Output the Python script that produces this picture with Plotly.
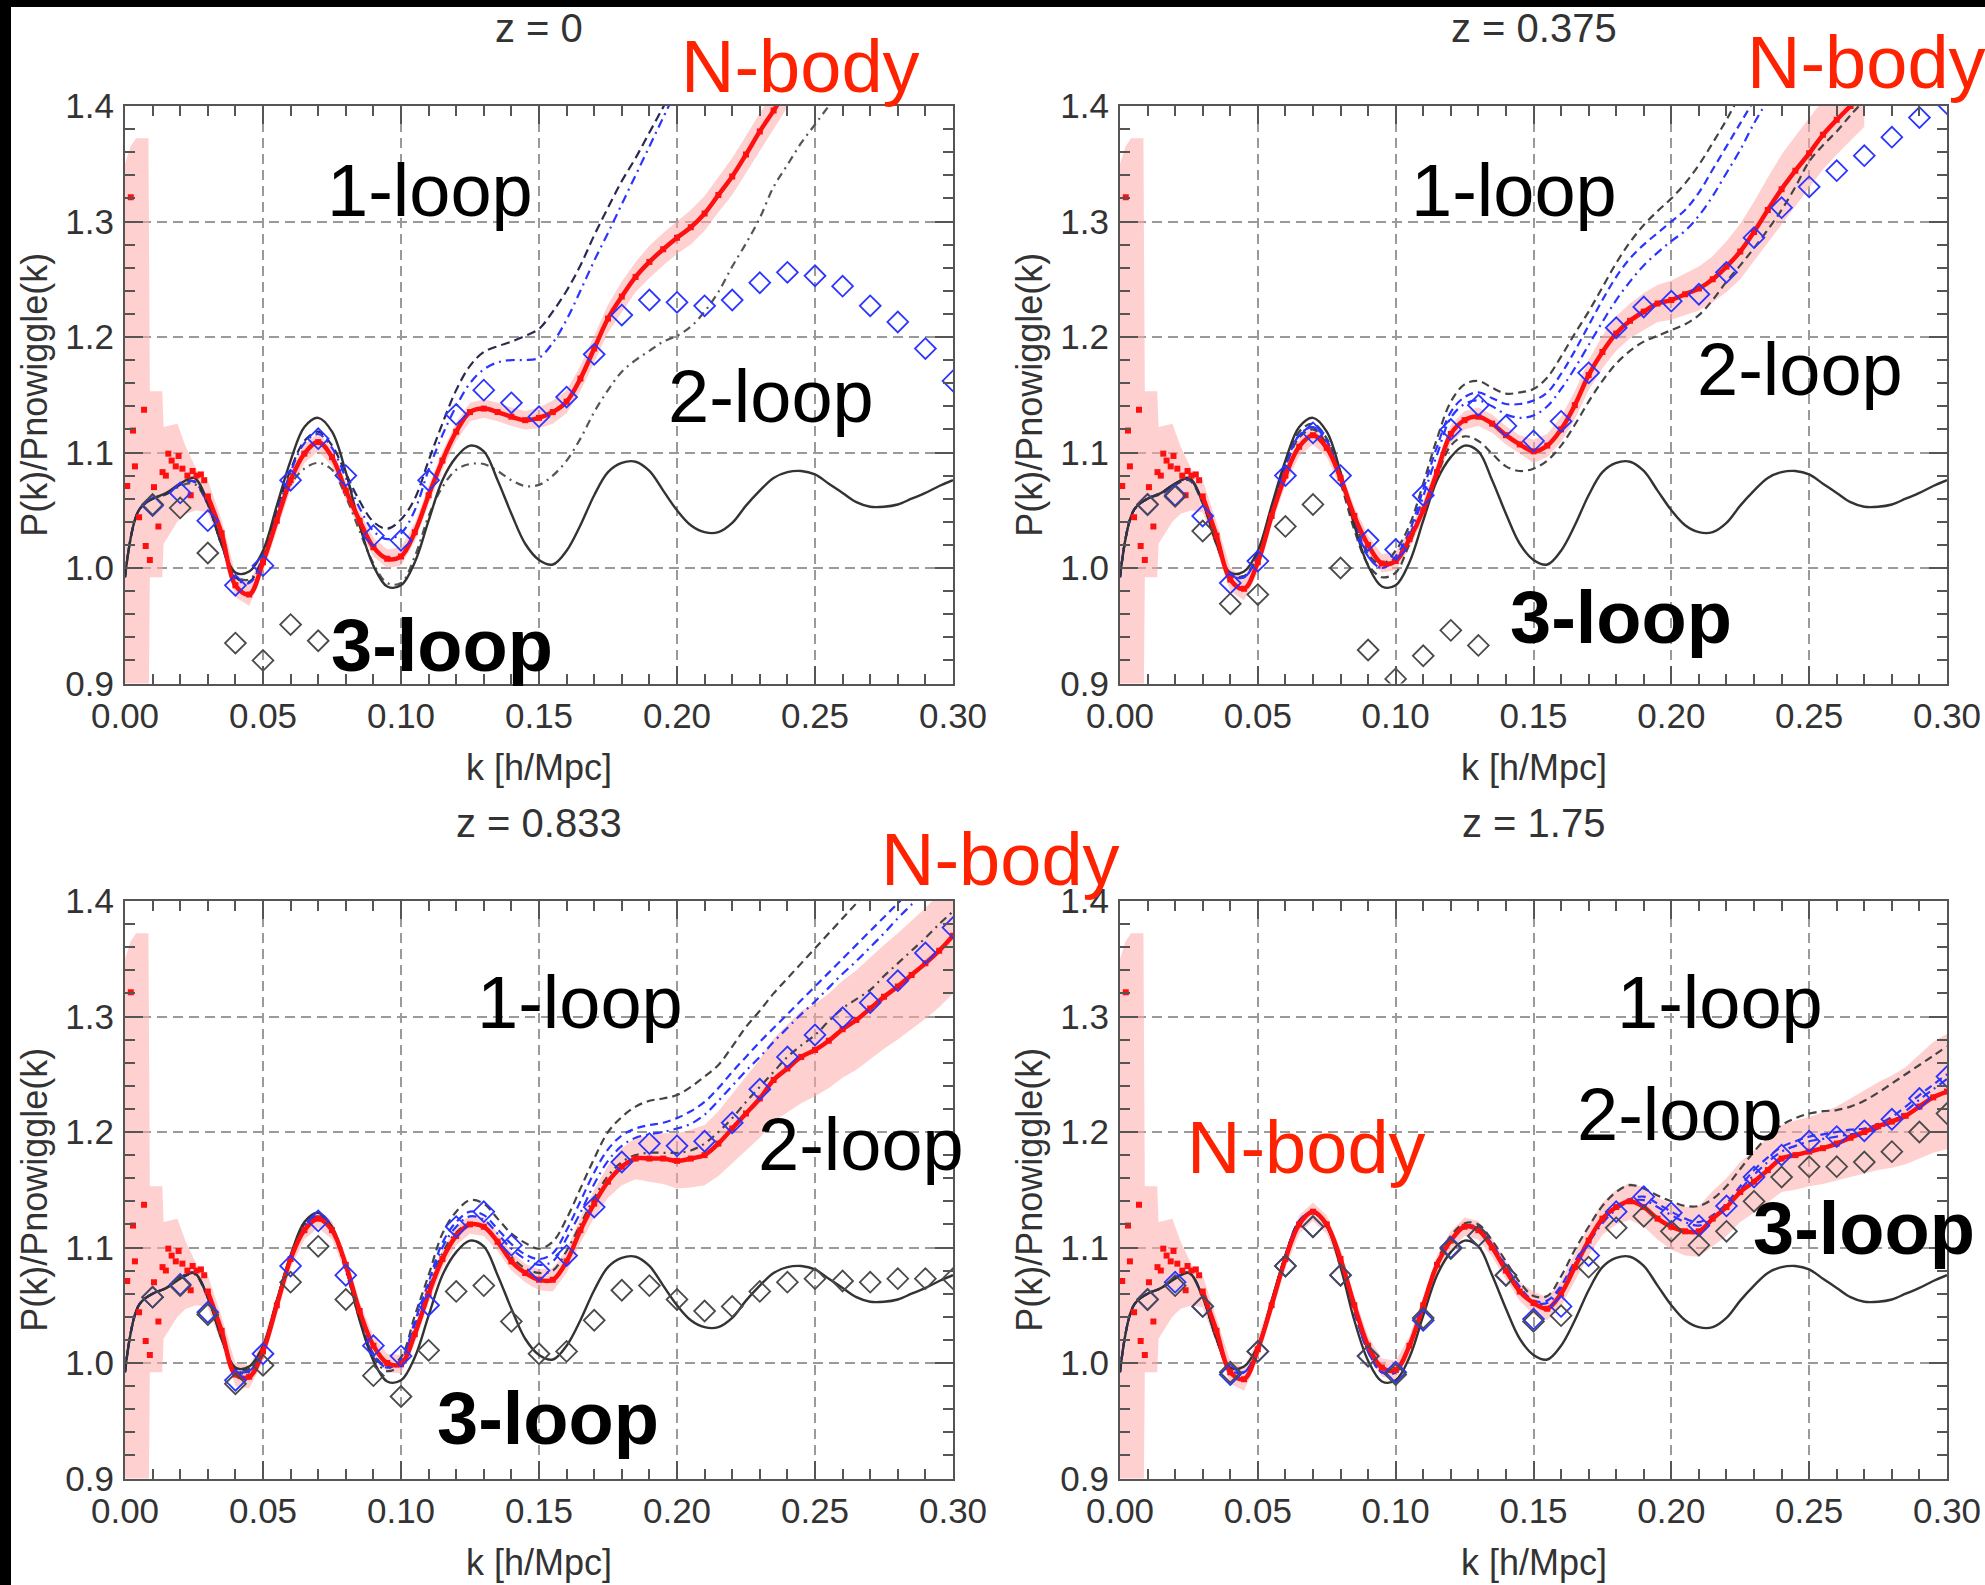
import plotly.graph_objects as go

W, H = 1985, 1585
STEP = 0.005

# ---------------- data ----------------
# linear theory ratio, k = 0.000 ... 0.300 step 0.005 (same in all panels)
lin_vals = [0.992, 1.050, 1.060, 1.065, 1.073, 1.078, 1.057, 1.021, 0.996, 0.997,
            1.015, 1.054, 1.093, 1.122, 1.130, 1.118, 1.083, 1.037, 1.002, 0.984,
            0.985, 1.005, 1.041, 1.076, 1.096, 1.106, 1.101, 1.076, 1.047, 1.021,
            1.007, 1.003, 1.015, 1.037, 1.063, 1.083, 1.091, 1.092, 1.084, 1.067,
            1.050, 1.037, 1.031, 1.031, 1.039, 1.054, 1.067, 1.078, 1.083, 1.084,
            1.081, 1.073, 1.065, 1.057, 1.053, 1.053, 1.055, 1.060, 1.065, 1.071,
            1.076]

# low-k N-body scatter (shared by all panels)
lowk_dot_k = [0.0008, 0.0021, 0.0029, 0.0036, 0.0051, 0.0069, 0.0075, 0.0090, 0.0105, 0.0121,
              0.0136, 0.0148, 0.0157, 0.0169, 0.0184, 0.0194, 0.0208, 0.0226, 0.0238, 0.0245,
              0.0259, 0.0275, 0.0287]
lowk_dot_v = [1.071, 1.321, 1.119, 1.088, 1.044, 1.137, 1.019, 1.007, 1.070, 1.036,
              1.083, 1.080, 1.099, 1.093, 1.088, 1.097, 1.086, 1.080, 1.063, 1.084,
              1.080, 1.081, 1.076]
lowk_band_k = [0.000, 0.002, 0.004, 0.0085, 0.0090, 0.0135, 0.0140, 0.0190, 0.0220, 0.0260, 0.0300]
lowk_band_hi = [1.350, 1.365, 1.372, 1.372, 1.153, 1.153, 1.122, 1.125, 1.105, 1.085, 1.076]
lowk_band_lo = [0.850, 0.850, 0.850, 0.850, 0.992, 0.992, 1.021, 1.040, 1.047, 1.050, 1.048]

err_low = [0.014, 0.012, 0.010, 0.010, 0.009] + [0.008] * 19   # k = 0.030 ... 0.145

# ---- z = 0 ----
z0_nbody = [1.062, 1.030, 0.985, 0.977, 1.005, 1.041, 1.076, 1.099, 1.109, 1.096,
            1.067, 1.041, 1.018, 1.008, 1.010, 1.031, 1.063, 1.093, 1.118, 1.135,
            1.138, 1.135, 1.131, 1.128, 1.130, 1.135, 1.144, 1.164, 1.190, 1.216,
            1.235, 1.252, 1.265, 1.276, 1.286, 1.295, 1.307, 1.323, 1.339, 1.358,
            1.378, 1.396, 1.415]
z0_err = err_low + [0.009, 0.010, 0.010, 0.011, 0.012, 0.012, 0.013, 0.013, 0.014, 0.014,
                    0.014, 0.015, 0.015, 0.015, 0.016, 0.016, 0.016, 0.016, 0.016]
z0_oneloop = [0.992, 1.050, 1.060, 1.064, 1.072, 1.075, 1.055, 1.020, 0.992, 0.988,
              1.010, 1.050, 1.085, 1.110, 1.118, 1.106, 1.082, 1.058, 1.040, 1.034,
              1.042, 1.060, 1.093, 1.125, 1.154, 1.175, 1.187, 1.192, 1.196, 1.201,
              1.207, 1.222, 1.240, 1.262, 1.288, 1.312, 1.335, 1.355, 1.377, 1.399,
              1.420]
z0_blue_dd = [0.992, 1.050, 1.060, 1.064, 1.072, 1.075, 1.055, 1.020, 0.991, 0.987,
              1.009, 1.048, 1.083, 1.108, 1.116, 1.104, 1.078, 1.052, 1.032, 1.025,
              1.030, 1.050, 1.085, 1.115, 1.140, 1.160, 1.172, 1.178, 1.180, 1.180,
              1.182, 1.195, 1.215, 1.240, 1.266, 1.290, 1.315, 1.340, 1.365, 1.390,
              1.415]
z0_twoloop = [0.992, 1.050, 1.060, 1.064, 1.071, 1.073, 1.055, 1.020, 0.993, 0.990,
              1.008, 1.043, 1.072, 1.086, 1.091, 1.085, 1.062, 1.032, 1.004, 0.987,
              0.987, 1.010, 1.045, 1.070, 1.085, 1.090, 1.090, 1.084, 1.076, 1.071,
              1.072, 1.080, 1.093, 1.112, 1.135, 1.154, 1.170, 1.180, 1.188, 1.196,
              1.201, 1.209, 1.222, 1.239, 1.261, 1.281, 1.303, 1.330, 1.349, 1.368,
              1.384, 1.400, 1.415]
z0_blue_diam = [1.054, 1.065, 1.041, 0.985, 1.002, 1.076, 1.112, 1.080, 1.028, 1.024,
                1.076, 1.133, 1.154, 1.143, 1.131, 1.148, 1.185, 1.219, 1.232, 1.230,
                1.227, 1.232, 1.247, 1.256, 1.253, 1.244, 1.227, 1.213, 1.190, 1.162]
z0_gray_diam = [1.055, 1.052, 1.013, 0.935, 0.920, 0.951, 0.937]

# ---- z = 0.375 ----
z1_nbody = [1.062, 1.028, 0.990, 0.982, 1.005, 1.045, 1.080, 1.105, 1.115, 1.104,
            1.078, 1.045, 1.020, 1.004, 1.006, 1.025, 1.050, 1.083, 1.116, 1.128,
            1.131, 1.125, 1.115, 1.107, 1.101, 1.106, 1.120, 1.141, 1.167, 1.187,
            1.203, 1.214, 1.222, 1.229, 1.232, 1.237, 1.242, 1.250, 1.261, 1.274,
            1.291, 1.310, 1.328, 1.344, 1.359, 1.375, 1.388, 1.400, 1.412]
z1_err = err_low + [0.010, 0.010, 0.011, 0.012, 0.013, 0.014, 0.015, 0.015, 0.016, 0.016,
                    0.017, 0.018, 0.019, 0.020, 0.022, 0.024, 0.026, 0.028, 0.030, 0.030,
                    0.030, 0.030, 0.030, 0.030, 0.030]
z1_oneloop = [0.992, 1.050, 1.060, 1.065, 1.073, 1.077, 1.057, 1.022, 0.995, 0.993,
              1.012, 1.052, 1.090, 1.118, 1.125, 1.112, 1.080, 1.042, 1.012, 1.003,
              1.015, 1.037, 1.073, 1.112, 1.144, 1.159, 1.162, 1.156, 1.151, 1.152,
              1.155, 1.165, 1.183, 1.203, 1.222, 1.243, 1.264, 1.282, 1.297, 1.309,
              1.320, 1.333, 1.349, 1.368, 1.388, 1.410]
z1_blue_dash = [0.992, 1.050, 1.060, 1.065, 1.073, 1.077, 1.057, 1.022, 0.994, 0.992,
                1.011, 1.050, 1.088, 1.115, 1.122, 1.110, 1.078, 1.040, 1.010, 1.000,
                1.010, 1.032, 1.068, 1.105, 1.135, 1.148, 1.152, 1.147, 1.142, 1.142,
                1.145, 1.152, 1.168, 1.188, 1.210, 1.232, 1.252, 1.268, 1.280, 1.290,
                1.300, 1.310, 1.325, 1.345, 1.365, 1.385, 1.405]
z1_blue_dd = [0.992, 1.050, 1.060, 1.065, 1.073, 1.077, 1.057, 1.022, 0.994, 0.992,
              1.011, 1.050, 1.088, 1.115, 1.122, 1.110, 1.078, 1.040, 1.010, 1.000,
              1.008, 1.028, 1.062, 1.098, 1.130, 1.142, 1.145, 1.140, 1.133, 1.130,
              1.132, 1.140, 1.155, 1.173, 1.193, 1.213, 1.232, 1.248, 1.262, 1.273,
              1.283, 1.292, 1.305, 1.322, 1.342, 1.362, 1.385, 1.405]
z1_twoloop = [0.992, 1.050, 1.060, 1.064, 1.072, 1.076, 1.056, 1.021, 0.994, 0.993,
              1.011, 1.050, 1.087, 1.113, 1.120, 1.107, 1.074, 1.033, 1.003, 0.992,
              0.996, 1.021, 1.050, 1.080, 1.106, 1.114, 1.110, 1.099, 1.088, 1.084,
              1.086, 1.093, 1.106, 1.124, 1.144, 1.162, 1.177, 1.188, 1.196, 1.201,
              1.206, 1.211, 1.219, 1.232, 1.248, 1.262, 1.277, 1.293, 1.310, 1.330,
              1.352, 1.366, 1.378, 1.392, 1.405]
z1_blue_diam = [1.055, 1.063, 1.045, 0.987, 1.006, 1.080, 1.117, 1.080, 1.024, 1.016,
                1.063, 1.120, 1.141, 1.123, 1.110, 1.127, 1.169, 1.208, 1.226, 1.231,
                1.237, 1.256, 1.286, 1.312, 1.330, 1.344, 1.357, 1.373, 1.390, 1.402]
z1_gray_diam = [1.055, 1.062, 1.032, 0.969, 0.977, 1.036, 1.055, 1.000, 0.929, 0.904,
                0.924, 0.946, 0.933]

# ---- z = 0.833 ----
z2_nbody = [1.062, 1.028, 0.990, 0.988, 1.010, 1.050, 1.090, 1.115, 1.125, 1.115,
            1.085, 1.045, 1.015, 1.000, 0.999, 1.025, 1.060, 1.090, 1.110, 1.120,
            1.118, 1.105, 1.088, 1.078, 1.072, 1.072, 1.088, 1.115, 1.138, 1.157,
            1.170, 1.177, 1.177, 1.177, 1.175, 1.177, 1.180, 1.190, 1.203, 1.216,
            1.229, 1.245, 1.255, 1.265, 1.271, 1.279, 1.289, 1.297, 1.307, 1.317,
            1.326, 1.336, 1.346, 1.357, 1.370]
z2_err = err_low + [0.009, 0.010, 0.010, 0.011, 0.012, 0.014, 0.016, 0.018, 0.020, 0.022,
                    0.024, 0.025, 0.026, 0.028, 0.030, 0.032, 0.034, 0.036, 0.038, 0.040,
                    0.040, 0.041, 0.042, 0.043, 0.044, 0.045, 0.046, 0.047, 0.048, 0.049,
                    0.050]
z2_oneloop = [0.992, 1.050, 1.060, 1.065, 1.074, 1.078, 1.057, 1.022, 0.995, 0.995,
              1.014, 1.054, 1.093, 1.120, 1.128, 1.117, 1.083, 1.040, 1.008, 0.997,
              1.005, 1.041, 1.076, 1.112, 1.131, 1.141, 1.138, 1.125, 1.112, 1.104,
              1.099, 1.105, 1.125, 1.151, 1.177, 1.200, 1.213, 1.222, 1.227, 1.229,
              1.232, 1.239, 1.248, 1.258, 1.274, 1.291, 1.305, 1.320, 1.333, 1.346,
              1.359, 1.372, 1.385, 1.398, 1.411]
z2_blue_dash = [0.992, 1.050, 1.060, 1.065, 1.074, 1.078, 1.057, 1.022, 0.994, 0.993,
                1.013, 1.053, 1.092, 1.119, 1.127, 1.116, 1.082, 1.040, 1.007, 0.996,
                1.003, 1.036, 1.070, 1.104, 1.122, 1.131, 1.128, 1.116, 1.103, 1.094,
                1.090, 1.095, 1.115, 1.140, 1.165, 1.185, 1.197, 1.203, 1.206, 1.208,
                1.212, 1.218, 1.226, 1.238, 1.252, 1.265, 1.278, 1.290, 1.302, 1.314,
                1.326, 1.338, 1.350, 1.362, 1.374, 1.386, 1.398, 1.410]
z2_blue_dd = [0.992, 1.050, 1.060, 1.065, 1.074, 1.078, 1.057, 1.022, 0.994, 0.993,
              1.013, 1.053, 1.092, 1.119, 1.127, 1.116, 1.082, 1.040, 1.007, 0.996,
              1.002, 1.033, 1.066, 1.100, 1.118, 1.127, 1.124, 1.112, 1.099, 1.090,
              1.085, 1.088, 1.108, 1.130, 1.155, 1.175, 1.188, 1.195, 1.198, 1.200,
              1.203, 1.207, 1.215, 1.227, 1.240, 1.253, 1.265, 1.278, 1.290, 1.302,
              1.313, 1.325, 1.337, 1.348, 1.360, 1.372, 1.385, 1.397, 1.410]
z2_twoloop = [0.992, 1.050, 1.060, 1.065, 1.073, 1.077, 1.056, 1.021, 0.993, 0.992,
              1.012, 1.052, 1.091, 1.118, 1.126, 1.114, 1.080, 1.038, 1.005, 0.993,
              0.999, 1.028, 1.062, 1.095, 1.113, 1.121, 1.118, 1.106, 1.092, 1.082,
              1.078, 1.080, 1.097, 1.120, 1.143, 1.162, 1.174, 1.180, 1.182, 1.182,
              1.182, 1.184, 1.190, 1.200, 1.212, 1.226, 1.239, 1.252, 1.265, 1.275,
              1.284, 1.296, 1.307, 1.315, 1.323, 1.335, 1.346, 1.357, 1.368, 1.380,
              1.391]
z2_blue_diam = [1.057, 1.068, 1.044, 0.985, 1.008, 1.084, 1.123, 1.076, 1.015, 1.006,
                1.050, 1.118, 1.131, 1.102, 1.080, 1.093, 1.135, 1.174, 1.190, 1.188,
                1.192, 1.208, 1.237, 1.265, 1.284, 1.299, 1.312, 1.331, 1.355, 1.377]
z2_gray_diam = [1.057, 1.067, 1.042, 0.982, 0.998, 1.070, 1.101, 1.055, 0.989, 0.971,
                1.011, 1.062, 1.067, 1.036, 1.008, 1.010, 1.037, 1.063, 1.067, 1.055,
                1.045, 1.049, 1.062, 1.070, 1.073, 1.071, 1.070, 1.073, 1.073, 1.073]

# ---- z = 1.75 ----
z3_nbody = [1.062, 1.028, 0.992, 0.986, 1.012, 1.050, 1.090, 1.120, 1.131, 1.120,
            1.090, 1.050, 1.015, 0.996, 0.994, 1.015, 1.050, 1.085, 1.106, 1.118,
            1.115, 1.100, 1.080, 1.062, 1.052, 1.047, 1.060, 1.083, 1.106, 1.125,
            1.135, 1.140, 1.135, 1.125, 1.118, 1.114, 1.114, 1.125, 1.135, 1.148,
            1.157, 1.167, 1.177, 1.180, 1.183, 1.186, 1.190, 1.195, 1.200, 1.205,
            1.209, 1.214, 1.222, 1.230, 1.235]
z3_err = err_low + [0.010, 0.010, 0.011, 0.012, 0.013, 0.014, 0.015, 0.016, 0.017, 0.018,
                    0.020, 0.021, 0.022, 0.024, 0.025, 0.026, 0.027, 0.028, 0.029, 0.030,
                    0.030, 0.031, 0.032, 0.034, 0.036, 0.038, 0.040, 0.042, 0.045, 0.048,
                    0.050]
z3_oneloop = [0.992, 1.050, 1.060, 1.065, 1.074, 1.078, 1.057, 1.021, 0.994, 0.992,
              1.013, 1.053, 1.093, 1.123, 1.131, 1.120, 1.088, 1.045, 1.010, 0.992,
              0.992, 1.015, 1.052, 1.088, 1.110, 1.121, 1.120, 1.106, 1.088, 1.070,
              1.058, 1.058, 1.075, 1.098, 1.118, 1.136, 1.148, 1.154, 1.151, 1.145,
              1.140, 1.136, 1.136, 1.142, 1.153, 1.168, 1.183, 1.196, 1.206, 1.212,
              1.216, 1.218, 1.219, 1.222, 1.227, 1.234, 1.242, 1.250, 1.258, 1.266,
              1.274]
z3_blue_dash = [0.992, 1.050, 1.060, 1.065, 1.074, 1.078, 1.057, 1.021, 0.994, 0.992,
                1.013, 1.053, 1.093, 1.123, 1.131, 1.120, 1.088, 1.045, 1.010, 0.992,
                0.992, 1.015, 1.050, 1.086, 1.107, 1.119, 1.117, 1.103, 1.084, 1.066,
                1.054, 1.054, 1.067, 1.088, 1.106, 1.123, 1.135, 1.142, 1.144, 1.138,
                1.131, 1.125, 1.122, 1.128, 1.138, 1.153, 1.167, 1.178, 1.187, 1.192,
                1.196, 1.198, 1.200, 1.202, 1.203, 1.207, 1.213, 1.222, 1.232, 1.241,
                1.250]
z3_blue_dd = [0.992, 1.050, 1.060, 1.065, 1.074, 1.078, 1.057, 1.021, 0.994, 0.992,
              1.013, 1.053, 1.093, 1.123, 1.131, 1.120, 1.088, 1.045, 1.010, 0.992,
              0.992, 1.015, 1.050, 1.085, 1.106, 1.118, 1.116, 1.102, 1.083, 1.065,
              1.053, 1.052, 1.065, 1.086, 1.104, 1.121, 1.133, 1.140, 1.141, 1.135,
              1.128, 1.122, 1.119, 1.125, 1.135, 1.150, 1.163, 1.174, 1.183, 1.188,
              1.192, 1.194, 1.196, 1.198, 1.199, 1.203, 1.209, 1.218, 1.228, 1.237,
              1.246]
z3_blue_diam = [1.055, 1.070, 1.049, 0.990, 1.010, 1.084, 1.118, 1.076, 1.006, 0.992,
                1.037, 1.100, 1.110, 1.076, 1.038, 1.049, 1.093, 1.131, 1.144, 1.130,
                1.119, 1.136, 1.161, 1.180, 1.192, 1.196, 1.201, 1.211, 1.229, 1.248]
z3_gray_diam = [1.055, 1.067, 1.049, 0.992, 1.010, 1.084, 1.118, 1.076, 1.006, 0.990,
                1.039, 1.099, 1.110, 1.076, 1.036, 1.041, 1.083, 1.117, 1.127, 1.114,
                1.102, 1.114, 1.140, 1.161, 1.170, 1.170, 1.174, 1.183, 1.200, 1.216]

titles = ["z = 0", "z = 0.375", "z = 0.833", "z = 1.75"]
x_ticks = [0.00, 0.05, 0.10, 0.15, 0.20, 0.25, 0.30]
y_ticks = [0.9, 1.0, 1.1, 1.2, 1.3, 1.4]


def kgrid(start, n, step=STEP):
    return [round(start + step * i, 4) for i in range(n)]


# ---------------- styles ----------------
DARK = "#333333"
BLUE = "#2b35ff"
RED = "#ff1010"
PINK = "rgba(255,170,170,0.55)"
GRAY_D = "#4a4a4a"
TICKFONT = dict(family="Liberation Sans Narrow, Liberation Sans, Arial, sans-serif", size=35, color=DARK)
LABFONT = dict(family="Liberation Sans, Arial, sans-serif", size=36, color=DARK)
BIG = "Liberation Sans, Arial, sans-serif"

# pixel geometry of each plot area: (x0, x1, ytop, ybottom)
geo = [(125, 953, 106, 683.5), (1120, 1947, 106, 683.5),
       (125, 953, 901, 1478.5), (1120, 1947, 901, 1478.5)]

panels = [
    dict(nb=z0_nbody, err=z0_err,
         lines=[(z0_twoloop, "#555555", "8px,5px,2px,5px"),
                (z0_oneloop, "#2a2a50", "9px,5px"),
                (z0_blue_dd, BLUE, "9px,5px,2px,5px")],
         bd=z0_blue_diam, gd=z0_gray_diam),
    dict(nb=z1_nbody, err=z1_err,
         lines=[(z1_twoloop, "#444444", "8px,5px"),
                (z1_oneloop, "#444444", "8px,5px"),
                (z1_blue_dash, BLUE, "8px,5px"),
                (z1_blue_dd, BLUE, "9px,5px,2px,5px")],
         bd=z1_blue_diam, gd=z1_gray_diam),
    dict(nb=z2_nbody, err=z2_err,
         lines=[(z2_twoloop, "#444444", "8px,5px,2px,5px"),
                (z2_oneloop, "#444444", "8px,5px"),
                (z2_blue_dash, BLUE, "8px,5px"),
                (z2_blue_dd, BLUE, "9px,5px,2px,5px")],
         bd=z2_blue_diam, gd=z2_gray_diam),
    dict(nb=z3_nbody, err=z3_err,
         lines=[(z3_oneloop, "#444444", "8px,5px"),
                (z3_blue_dd, BLUE, "9px,5px,2px,5px"),
                (z3_blue_dash, BLUE, "8px,5px")],
         bd=z3_blue_diam, gd=z3_gray_diam),
]

fig = go.Figure()
layout = dict(width=W, height=H, margin=dict(l=0, r=0, t=0, b=0, pad=0, autoexpand=False),
              paper_bgcolor="white", plot_bgcolor="white", showlegend=False)
annotations = []

for i, p in enumerate(panels):
    sfx = "" if i == 0 else str(i + 1)
    xa, ya = "x" + sfx, "y" + sfx
    x0, x1, yt, yb = geo[i]

    # N-body error band (low-k shared part + panel part)
    k_nb = kgrid(0.03, len(p["nb"]))
    up = [v + e for v, e in zip(p["nb"], p["err"])]
    lo = [v - e for v, e in zip(p["nb"], p["err"])]
    bx = lowk_band_k + k_nb + k_nb[::-1] + lowk_band_k[::-1]
    by = lowk_band_hi + up + lo[::-1] + lowk_band_lo[::-1]
    fig.add_trace(go.Scatter(x=bx, y=by, xaxis=xa, yaxis=ya, mode="lines",
                             fill="toself", fillcolor=PINK, line=dict(width=0),
                             hoverinfo="skip"))
    # perturbation theory curves
    for vals, col, dash in p["lines"]:
        fig.add_trace(go.Scatter(x=kgrid(0, len(vals)), y=vals, xaxis=xa, yaxis=ya,
                                 mode="lines",
                                 line=dict(color=col, width=2.2, dash=dash, shape="spline")))
    # linear theory
    fig.add_trace(go.Scatter(x=kgrid(0, len(lin_vals)), y=lin_vals, xaxis=xa, yaxis=ya,
                             mode="lines", line=dict(color="#333333", width=2.4, shape="spline")))
    # N-body
    fig.add_trace(go.Scatter(x=k_nb, y=p["nb"], xaxis=xa, yaxis=ya, mode="lines+markers",
                             line=dict(color=RED, width=4.5, shape="spline"),
                             marker=dict(color=RED, size=6, symbol="square")))
    fig.add_trace(go.Scatter(x=lowk_dot_k, y=lowk_dot_v, xaxis=xa, yaxis=ya, mode="markers",
                             marker=dict(color=RED, size=6, symbol="square")))
    # diamonds
    fig.add_trace(go.Scatter(x=kgrid(0.01, len(p["bd"]), 0.01), y=p["bd"], xaxis=xa, yaxis=ya,
                             mode="markers",
                             marker=dict(symbol="diamond-open", size=16, color=BLUE,
                                         line=dict(width=1.8, color=BLUE))))
    fig.add_trace(go.Scatter(x=kgrid(0.01, len(p["gd"]), 0.01), y=p["gd"], xaxis=xa, yaxis=ya,
                             mode="markers",
                             marker=dict(symbol="diamond-open", size=16, color=GRAY_D,
                                         line=dict(width=1.8, color=GRAY_D))))

    axis_common = dict(showline=True, linecolor="#555555", linewidth=2, mirror="ticks",
                       ticks="inside", tickcolor="#555555", tickwidth=2, ticklen=18,
                       showgrid=True, gridcolor="#9a9a9a", griddash="10px,6px", gridwidth=1.6,
                       zeroline=False, tickfont=TICKFONT, automargin=False)
    layout["xaxis" + sfx] = dict(axis_common, domain=[x0 / W, x1 / W], anchor=ya,
                                 range=[0, 0.3], tickvals=x_ticks, tickformat=".2f",
                                 ticklabelstandoff=0,
                                 minor=dict(ticks="inside", dtick=0.01, ticklen=10,
                                            tickcolor="#555555", tickwidth=2, showgrid=False))
    layout["yaxis" + sfx] = dict(axis_common, domain=[1 - yb / H, 1 - yt / H], anchor=xa,
                                 range=[0.9, 1.4], tickvals=y_ticks, tickformat=".1f",
                                 ticklabelstandoff=2,
                                 minor=dict(ticks="inside", dtick=0.02, ticklen=10,
                                            tickcolor="#555555", tickwidth=2, showgrid=False))
    xc = (x0 + x1) / 2
    annotations.append(dict(text=titles[i], x=xc / W, y=1 - (yt - 78) / H, xref="paper",
                            yref="paper", showarrow=False, font=dict(LABFONT, size=40),
                            xanchor="center", yanchor="middle"))
    annotations.append(dict(text="k [h/Mpc]", x=xc / W, y=1 - (yb + 84) / H, xref="paper",
                            yref="paper", showarrow=False, font=dict(LABFONT, size=36),
                            xanchor="center", yanchor="middle"))
    annotations.append(dict(text="P(k)/Pnowiggle(k)", x=(x0 - 90) / W, y=1 - ((yt + yb) / 2) / H,
                            xref="paper", yref="paper", showarrow=False, font=LABFONT,
                            textangle=-90, xanchor="center", yanchor="middle"))

# big labels (pixel centres)
labels = [
    ("N-body", 800, 66, "#ff2200", False), ("1-loop", 430, 191, "black", False),
    ("2-loop", 771, 397, "black", False), ("3-loop", 442, 645, "black", True),
    ("N-body", 1866, 63, "#ff2200", False), ("1-loop", 1514, 191, "black", False),
    ("2-loop", 1800, 369, "black", False), ("3-loop", 1621, 617, "black", True),
    ("N-body", 1000, 860, "#ff2200", False), ("1-loop", 580, 1002, "black", False),
    ("2-loop", 861, 1144, "black", False), ("3-loop", 548, 1418, "black", True),
    ("1-loop", 1720, 1002, "black", False), ("2-loop", 1680, 1114, "black", False),
    ("N-body", 1306, 1147, "#ff2200", False), ("3-loop", 1864, 1228, "black", True),
]
for txt, px, py, col, bold in labels:
    annotations.append(dict(text=("<b>%s</b>" % txt) if bold else txt, x=px / W, y=1 - py / H,
                            xref="paper", yref="paper", showarrow=False,
                            font=dict(family=BIG, size=74, color=col),
                            xanchor="center", yanchor="middle"))

layout["annotations"] = annotations
layout["shapes"] = [
    dict(type="rect", xref="paper", yref="paper", x0=0, x1=11 / W, y0=0, y1=1,
         fillcolor="black", line=dict(width=0), layer="above"),
    dict(type="rect", xref="paper", yref="paper", x0=0, x1=1, y0=1 - 7 / H, y1=1,
         fillcolor="black", line=dict(width=0), layer="above"),
]
fig.update_layout(**layout)
fig.write_html("out.html")
